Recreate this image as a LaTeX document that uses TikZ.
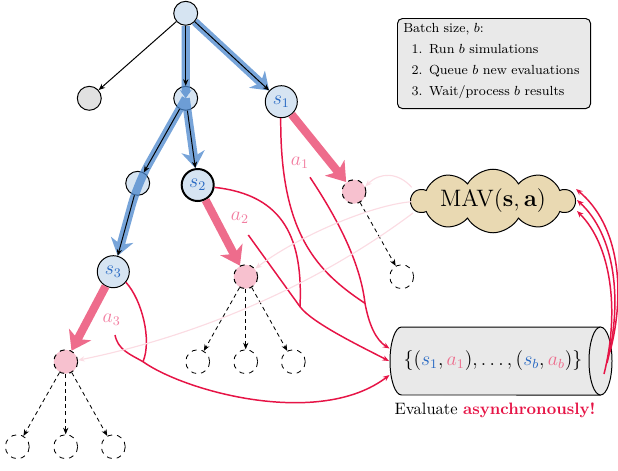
\documentclass[tikz,border=0pt]{standalone}
\usetikzlibrary{arrows.meta,shapes.symbols,calc}
\definecolor{nodeblue}{RGB}{214,228,242}
\definecolor{pathblue}{RGB}{74,134,204}
\definecolor{sblue}{RGB}{40,105,195}
\definecolor{crim}{RGB}{230,20,70}
\definecolor{apink}{RGB}{238,108,140}
\definecolor{lpink}{RGB}{242,125,160}
\definecolor{nodepink}{RGB}{247,193,207}
\definecolor{cloudtan}{RGB}{233,217,178}
\definecolor{boxgrey}{RGB}{233,233,233}
\definecolor{nodegrey}{RGB}{225,225,225}
\begin{document}
\begin{tikzpicture}[x=0.606pt,y=0.606pt,
  >={Stealth[length=4pt,width=3.2pt]},
  tnode/.style={circle,draw,line width=0.6pt,minimum size=14.5pt,inner sep=0pt,fill=nodeblue},
  snode/.style={tnode,minimum size=19.4pt,text=sblue,font=\large},
  pnode/.style={circle,draw,dashed,line width=0.6pt,minimum size=14.5pt,inner sep=0pt,fill=nodepink},
  leafnode/.style={circle,draw,dashed,line width=0.5pt,minimum size=14.5pt,inner sep=0pt},
  alab/.style={text=lpink,font=\large,inner sep=0pt},
  bluepath/.style={draw=pathblue,line width=5pt,-{Stealth[length=10pt,width=14pt,inset=3pt]}},
  blk/.style={draw=black,line width=0.6pt,->},
  pinkarrow/.style={draw=apink,line width=5pt,-{Stealth[length=11pt,width=15pt,inset=3pt]}},
  redline/.style={draw=crim,line width=0.9pt},
  redarrow/.style={redline,->},
  faint/.style={draw=crim!15,line width=0.7pt,->},
  dashedge/.style={draw,dash pattern=on 2.5pt off 2pt,line width=0.5pt,->}
]
\useasboundingbox (0,0) rectangle (618,-470);

% cylinder body
\fill[boxgrey] (600.5,-327) -- (401.5,-327) arc[start angle=90,end angle=270,x radius=6.97pt,y radius=20.6pt] -- (600.5,-395) -- cycle;
\draw[line width=0.6pt] (600.5,-327) -- (401.5,-327) arc[start angle=90,end angle=270,x radius=6.97pt,y radius=20.6pt] -- (600.5,-395);
\draw[line width=0.6pt,fill=boxgrey] (600.5,-361) ellipse [x radius=6.97pt,y radius=20.6pt];
\node[minimum width=134.5pt,minimum height=41.2pt,inner sep=0pt] (cyl) at (501,-361) {};
\node[font=\large] (ctext) at (493,-361) {$\big\{(\textcolor{sblue}{s_1},\textcolor{apink}{a_1}),\ldots,(\textcolor{sblue}{s_b},\textcolor{apink}{a_b})\big\}$};
\node (eval) at (495,-410) {Evaluate \textcolor{crim}{\textbf{asynchronously!}}};

% info box
\node[draw,rounded corners=3pt,fill=boxgrey,line width=0.6pt,anchor=north west,inner xsep=3.5pt,inner ysep=0pt,text width=110pt,text height=8.2pt,text depth=46.4pt,font=\footnotesize] (info) at (397,-18)
 {\renewcommand{\arraystretch}{1.34}\begin{tabular}[t]{@{}r@{\hspace{4pt}}l@{}}\multicolumn{2}{@{}l@{}}{Batch size, $b$:}\\ \hspace{5pt}1. & Run $b$ simulations\\ 2. & Queue $b$ new evaluations\\ 3. & Wait/process $b$ results\end{tabular}};

% cloud
\node[cloud,cloud puffs=10,cloud puff arc=120,cloud ignores aspect,draw,line width=0.6pt,fill=cloudtan,minimum width=99pt,minimum height=38.5pt,inner sep=0pt,font=\Large] (mav) at (493,-201) {MAV$(\mathbf{s},\mathbf{a})$};

% tree nodes
\node[tnode] (root) at (185.7,-13.3) {};
\node[tnode,fill=nodegrey] (grey) at (89.3,-98.3) {};
\node[tnode] (mid) at (185.7,-98.3) {};
\node[snode] (s1) at (281.3,-101.7) {$s_1$};
\node[tnode] (c3) at (137.7,-183.3) {};
\node[snode,line width=1.2pt] (s2) at (197.7,-185) {$s_2$};
\node[snode] (s3) at (113.3,-271.7) {$s_3$};
\node[pnode] (p1) at (354,-191.7) {};
\node[pnode] (p2) at (245.7,-276.7) {};
\node[pnode] (p3) at (65.7,-361.7) {};
\node[leafnode] (l11) at (401.7,-276.7) {};
\node[leafnode] (l21) at (197.7,-361.7) {};
\node[leafnode] (l22) at (245.7,-361.7) {};
\node[leafnode] (l23) at (293.3,-361.7) {};
\node[leafnode] (l31) at (17.3,-446.7) {};
\node[leafnode] (l32) at (65.7,-446.7) {};
\node[leafnode] (l33) at (113.3,-446.7) {};
\node[alab] (la1) at (300,-163) {$a_1$};
\node[alab] (la2) at (240,-218) {$a_2$};
\node[alab] (la3) at (111.7,-319.3) {$a_3$};

% blue search paths
\begin{scope}[transparency group,opacity=0.75]
\draw[bluepath] (root) -- (s1);
\draw[bluepath,-{Stealth[length=5pt,width=7pt]}] (root) -- (mid.center);
\draw[bluepath] (mid.center) -- (s2);
\draw[bluepath,rounded corners=14pt] (mid.center) -- (c3.center) -- (s3);
\end{scope}

% black tree edges
\draw[blk] (root) -- (grey);
\draw[blk] (root) -- (mid);
\draw[blk] (root) -- (s1);
\draw[blk] (mid) -- (c3);
\draw[blk] (mid) -- (s2);
\draw[blk] (c3) -- (s3);

% pink action arrows
\draw[pinkarrow] (s1) -- (p1);
\draw[pinkarrow] (s2) -- (p2);
\draw[pinkarrow] (s3) -- (p3);

% dashed children
\draw[dashedge] (p1) -- (l11);
\draw[dashedge] (p2) -- (l21);
\draw[dashedge] (p2) -- (l22);
\draw[dashedge] (p2) -- (l23);
\draw[dashedge] (p3) -- (l31);
\draw[dashedge] (p3) -- (l32);
\draw[dashedge] (p3) -- (l33);

% coordinates for red curves
\coordinate (r1) at (310,-177.3);
\coordinate (r2) at (248.3,-235);
\coordinate (r3) at (115,-335);
\coordinate (m1) at (365,-303.3);
\coordinate (m2) at (300,-306.7);
\coordinate (m3) at (143,-361.7);
\coordinate (e1) at (389.5,-348.5);
\coordinate (e2) at (389,-361);
\coordinate (e3) at (389.5,-375);

\draw[redline] (s1.-92) .. controls (280,-235) and (318,-272) .. (m1);
\draw[redarrow] (r1) .. controls (335,-215) and (360,-260) .. (m1) .. controls (369,-325) and (376,-340) .. (e1);
\draw[redline] (s2.-8) .. controls (285,-195) and (303,-240) .. (m2);
\draw[redarrow] (r2) -- (m2) .. controls (312,-323) and (362,-347) .. (e2);
\draw[redline] (s3.-40) .. controls (142,-300) and (152,-340) .. (m3);
\draw[redarrow] (r3) .. controls (118,-350) and (130,-354.2) .. (m3) .. controls (186,-392) and (320,-428) .. (e3);

% faint evaluation feedback
\coordinate (f1) at (411.7,-187.3);
\coordinate (f2) at (411.7,-201.7);
\coordinate (f3) at (413,-213);
\draw[faint] (f1) .. controls (398,-172) and (380,-172) .. (p1.25);
\draw[faint] (f2) .. controls (370,-205) and (295,-238) .. (p2.40);
\draw[faint] (f3) .. controls (317,-285) and (198,-336) .. (p3.7);

% results back to MAV
\coordinate (b1) at (610,-352);
\coordinate (b2) at (607,-363);
\coordinate (b3) at (604,-374);
\coordinate (t1) at (576,-189);
\coordinate (t2) at (577,-200);
\coordinate (t3) at (577,-211);
\draw[redarrow] (b1) .. controls (626,-290) and (619,-225) .. (t1);
\draw[redarrow] (b2) .. controls (623,-300) and (615,-235) .. (t2);
\draw[redarrow] (b3) .. controls (620,-310) and (611,-245) .. (t3);
\end{tikzpicture}
\end{document}
